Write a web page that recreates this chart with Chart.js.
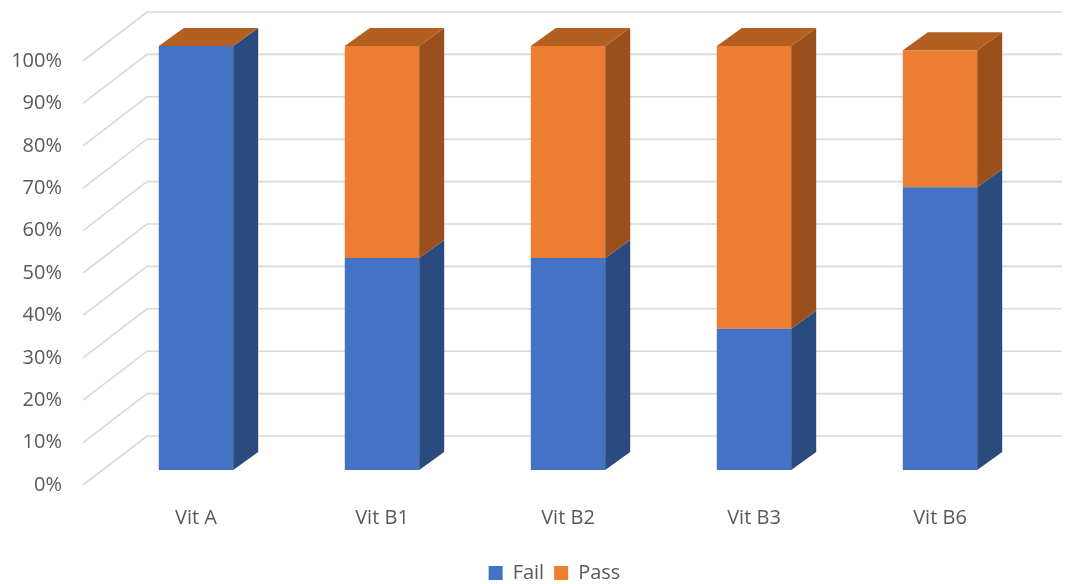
<!DOCTYPE html>
<html>
<head>
<meta charset="utf-8">
<script src="https://cdn.jsdelivr.net/npm/chart.js@4"></script>
<style>
html,body{margin:0;padding:0;background:#fff;}
#wrap{width:1070px;height:584px;}
</style>
</head>
<body>
<div id="wrap"><canvas id="c" width="1070" height="584"></canvas></div>
<script>
const categories = ["Vit A", "Vit B1", "Vit B2", "Vit B3", "Vit B6"];
const failValues = [100, 50, 50, 33.3, 66.7];
const passValues = [0, 50, 50, 66.7, 32.3];
const tickValues = [0, 10, 20, 30, 40, 50, 60, 70, 80, 90, 100];

const FRONT = ["#4472C4", "#ED7D31"];
const SIDE = ["#2B4A7E", "#9A4F1D"];
const TOP = ["#3A63AD", "#B35F22"];
const GRID = "#D9D9D9";
const DEPTH_X = 25, DEPTH_Y = -18;      // bar depth
const WALL_DX = 44, WALL_DY = -34;      // back wall offset from front face
const FLOOR_DX = -20, FLOOR_DY = 15;    // front floor edge offset

const grid3d = {
  id: 'grid3d',
  afterLayout(chart) {
    if (chart.legend) { chart.legend.left += 76; }
  },
  beforeDatasetsDraw(chart) {
    const ctx = chart.ctx, y = chart.scales.y, a = chart.chartArea;
    ctx.save();
    ctx.strokeStyle = GRID;
    ctx.lineWidth = 1.6;
    tickValues.forEach(v => {
      const py = y.getPixelForValue(v);
      ctx.beginPath();
      ctx.moveTo(a.left + FLOOR_DX, py + FLOOR_DY);
      ctx.lineTo(a.left + WALL_DX, py + WALL_DY);
      ctx.lineTo(a.right + 29, py + WALL_DY);
      ctx.stroke();
    });
    ctx.restore();
  },
  afterDatasetsDraw(chart) {
    const ctx = chart.ctx;
    ctx.save();
    const n = chart.data.datasets.length;
    chart.data.datasets.forEach((ds, di) => {
      const meta = chart.getDatasetMeta(di);
      meta.data.forEach((bar, i) => {
        const p = bar.getProps(['x', 'y', 'base', 'width'], true);
        const left = p.x - p.width / 2, right = p.x + p.width / 2;
        const top = Math.min(p.y, p.base), bottom = Math.max(p.y, p.base);
        if (bottom - top > 0.5) {
          ctx.fillStyle = SIDE[di];
          ctx.beginPath();
          ctx.moveTo(right, top);
          ctx.lineTo(right + DEPTH_X, top + DEPTH_Y);
          ctx.lineTo(right + DEPTH_X, bottom + DEPTH_Y);
          ctx.lineTo(right, bottom);
          ctx.closePath();
          ctx.fill();
        }
        if (di === n - 1) {
          ctx.fillStyle = TOP[di];
          ctx.beginPath();
          ctx.moveTo(left, top);
          ctx.lineTo(left + DEPTH_X, top + DEPTH_Y);
          ctx.lineTo(right + DEPTH_X, top + DEPTH_Y);
          ctx.lineTo(right, top);
          ctx.closePath();
          ctx.fill();
        }
      });
    });
    ctx.restore();
  }
};

Chart.defaults.font.family = "'Open Sans', sans-serif";
Chart.defaults.color = "#595959";

new Chart(document.getElementById('c'), {
  type: 'bar',
  data: {
    labels: categories,
    datasets: [
      { label: 'Fail', data: failValues, backgroundColor: FRONT[0], borderWidth: 0 },
      { label: 'Pass', data: passValues, backgroundColor: FRONT[1], borderWidth: 0 }
    ]
  },
  plugins: [grid3d],
  options: {
    responsive: false,
    animation: false,
    layout: { padding: { top: 46, right: 37, left: 0, bottom: -9 } },
    datasets: { bar: { barPercentage: 0.4, categoryPercentage: 1 } },
    scales: {
      x: {
        stacked: true,
        grid: { display: false, drawTicks: false },
        border: { display: false },
        ticks: { font: { size: 20 }, padding: 36 },
        afterFit(s) { s.height = 83; }
      },
      y: {
        stacked: true,
        min: 0, max: 100,
        afterBuildTicks(s) { s.ticks = tickValues.map(v => ({ value: v })); },
        grid: { display: false, drawTicks: false },
        border: { display: false },
        ticks: { font: { size: 20 }, padding: 41, labelOffset: 15, callback: v => v + '%' },
        afterFit(s) { s.width = 103; s.paddingTop = 0; s.paddingBottom = 0; }
      }
    },
    plugins: {
      legend: {
        position: 'bottom',
        labels: { font: { size: 20 }, boxWidth: 14, boxHeight: 14, padding: 10 }
      },
      tooltip: { enabled: false }
    }
  }
});
</script>
</body>
</html>
